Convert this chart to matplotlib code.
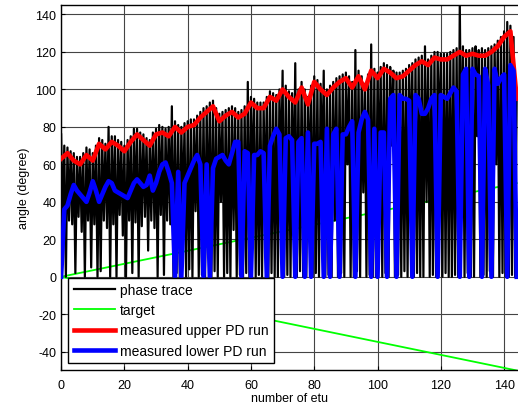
import numpy as np
import matplotlib
matplotlib.use('Agg')
import matplotlib.pyplot as plt

plt.rcParams['font.family'] = ['Liberation Sans', 'DejaVu Sans']
plt.rcParams['axes.unicode_minus'] = False

# phase trace: local maxima at integer etu, minima at the half steps between
peaks = [76, 70, 69, 67, 66, 64, 64, 66, 69, 68, 66, 70, 74, 73, 71, 80, 75, 75, 73, 72,
         70, 73, 75, 79, 79, 77, 76, 74, 73, 77, 79, 81, 80, 79, 80, 91, 83, 81, 80, 82,
         83, 84, 84, 86, 88, 90, 91, 93, 94, 90, 87, 88, 89, 90, 91, 90, 88, 89, 91, 104,
         96, 95, 93, 93, 93, 96, 99, 98, 97, 100, 110, 102, 99, 98, 114, 100, 104, 100, 96, 102,
         107, 105, 103, 110, 100, 102, 104, 106, 107, 108, 109, 107, 104, 121, 110, 107, 103, 108, 124, 111,
         109, 112, 114, 113, 112, 110, 109, 109, 110, 111, 113, 114, 116, 117, 118, 123, 116, 118, 120, 120,
         119, 119, 119, 120, 121, 122, 146, 123, 121, 121, 122, 123, 121, 122, 121, 122, 123, 124, 126, 128,
         131, 136, 134, 128, 100]
troughs = [25, 0, 30, 28, 2, 32, 24, 0, 30, 5, 28, 0, 3, 30, 26, 0, 28, 0, 33, 22,
           0, 30, 2, 29, 0, 27, 32, 14, 30, 26, 0, 33, 1, 30, 28, 0,
           2, 0, 30, 0, 4, 0, 35, 0, 1, 0, 20, 0, 3, 0, 40, 0, 2, 0, 25, 0, 1, 0, 2, 0,
           45, 0, 1, 0, 30, 0, 2, 0, 0, 50, 0, 1, 0, 35, 0, 3, 0, 0, 40, 0, 2, 0, 55, 0,
           1, 0, 30, 0, 2, 0, 60, 0, 0, 3, 0, 45, 0, 1, 0, 0, 50, 0, 2, 0, 70, 0, 1, 0,
           3, 0, 55, 0, 2, 0, 0, 40, 0, 1, 0, 65, 0, 2, 0, 0, 1, 0, 50, 0, 2, 0, 0, 75,
           0, 1, 0, 3, 0, 60, 0, 2, 0, 0, 1, 0]

# measured upper PD run, every 2 etu
upper_run = [63, 66, 62, 60, 65, 62, 71, 68, 72, 70, 67, 72, 76, 73, 70, 76, 77, 75, 80, 77,
             80, 81, 85, 88, 91, 83, 86, 88, 85, 87, 93, 90, 90, 96, 94, 100, 96, 93, 101, 92,
             104, 100, 97, 101, 104, 106, 101, 107, 100, 110, 106, 111, 109, 106, 107, 110, 113, 115, 113, 117,
             116, 116, 118, 120, 118, 119, 118, 118, 120, 123, 128, 131, 95]

# measured lower PD run, every etu
lower_run = [0, 36, 38, 44, 49, 46, 44, 42, 40, 45, 51, 46, 40, 44, 48, 51, 50, 46, 45, 44,
             43, 42, 46, 50, 52, 50, 48, 49, 54, 46, 50, 56, 60, 61, 56, 50, 0, 56, 0, 50,
             54, 58, 62, 65, 60, 0, 60, 0, 58, 63, 64, 65, 62, 60, 66, 72, 72, 0, 67, 66,
             0, 65, 65, 67, 66, 0, 70, 75, 79, 76, 0, 74, 75, 73, 0, 72, 74, 0, 77, 0,
             71, 71, 72, 0, 79, 0, 76, 79, 0, 76, 76, 80, 83, 0, 77, 84, 88, 84, 0, 79,
             0, 77, 77, 0, 95, 97, 0, 97, 95, 95, 94, 0, 97, 95, 87, 87, 90, 95, 97, 0,
             97, 96, 95, 98, 101, 99, 0, 108, 111, 0, 111, 108, 107, 0, 111, 102, 0, 111, 103, 106,
             108, 0, 113, 110, 0]

target_x = [0, 144]
target_up = [0, 50]
target_down = [0, -50]

xp = np.arange(len(peaks))
xt = np.arange(len(troughs)) + 0.5
x_phase = np.concatenate([xp, xt])
y_phase = np.concatenate([peaks, troughs])
order = np.argsort(x_phase)
x_phase = x_phase[order]
y_phase = y_phase[order]

fig = plt.figure(figsize=(5.18, 4.06), dpi=100)
ax = fig.add_axes([0.118, 0.085, 0.882, 0.9])

l_tgt, = ax.plot(target_x, target_up, color='#00ff00', lw=1.3, zorder=1.5, label='target')
ax.plot(target_x, target_down, color='#00ff00', lw=1.3, zorder=1.5)
l_ph, = ax.plot(x_phase, y_phase, color='black', lw=1.6, zorder=2, label='phase trace')
l_up, = ax.plot(np.arange(len(upper_run)) * 2, upper_run, color='red', lw=3.3, zorder=3,
                label='measured upper PD run')
l_lo, = ax.plot(np.arange(len(lower_run)), lower_run, color='blue', lw=3.3, zorder=4,
                label='measured lower PD run')

ax.set_xlim(0, 144.4)
ax.set_ylim(-50, 145)
ax.set_xticks(np.arange(0, 141, 20))
ax.set_yticks(np.arange(-40, 141, 20))
ax.tick_params(direction='in', labelsize=9, length=3, colors='black')
ax.tick_params(axis='x', pad=6)
ax.grid(True, color='#444444', lw=0.8)
ax.set_axisbelow(True)
ax.spines['right'].set_visible(False)
for s in ['left', 'bottom', 'top']:
    ax.spines[s].set_linewidth(1.0)
ax.set_xlabel('number of etu', fontsize=9, labelpad=1)
ax.set_ylabel('angle (degree)', fontsize=9, labelpad=4)

leg = ax.legend(handles=[l_ph, l_tgt, l_up, l_lo], loc='upper left',
                bbox_to_anchor=(0.016, 0.254), fontsize=10, frameon=True, fancybox=False,
                framealpha=1, edgecolor='black', borderaxespad=0, handlelength=2.95,
                handletextpad=0.36, labelspacing=0.44, borderpad=0.4)
leg.get_frame().set_linewidth(1.0)
leg.set_zorder(10)

fig.savefig('out.png', dpi=100)
